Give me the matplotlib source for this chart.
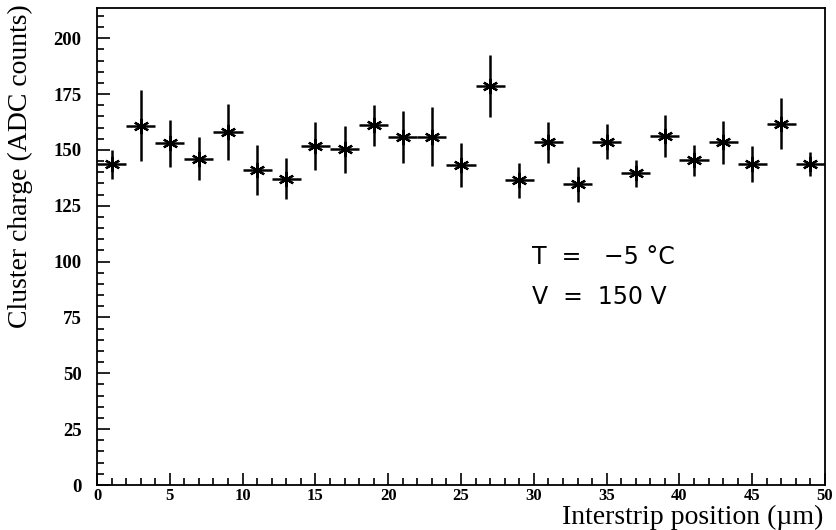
import numpy as np
import matplotlib
matplotlib.use("Agg")
import matplotlib.pyplot as plt
from matplotlib.ticker import MultipleLocator

# interstrip position (um) and cluster charge (ADC counts)
pos = [1, 3, 5, 7, 9, 11, 13, 15, 17, 19, 21, 23, 25,
       27, 29, 31, 33, 35, 37, 39, 41, 43, 45, 47, 49]
charge = [143.5, 160.8, 152.9, 146.0, 158.0, 141.0, 137.1, 151.9, 150.2, 161.0, 155.9, 155.9, 143.2,
          178.6, 136.3, 153.4, 134.6, 153.7, 139.6, 156.2, 145.4, 153.4, 143.8, 161.6, 143.5]
charge_err = [6.6, 16.0, 10.5, 9.7, 12.5, 11.0, 9.2, 10.7, 10.7, 9.2, 11.7, 13.3, 10.0,
              14.0, 7.9, 9.2, 7.8, 7.8, 6.0, 9.4, 7.0, 9.7, 8.0, 11.4, 5.4]
pos_err = [1.0] * len(pos)

fig = plt.figure(figsize=(8.37, 5.30), dpi=100)
ax = fig.add_axes([0.1159, 0.0849, 0.8698, 0.9])

ax.errorbar(pos, charge, yerr=charge_err, xerr=pos_err, fmt='none',
            ecolor='black', elinewidth=1.8, capsize=0)
ax.plot(pos, charge, linestyle='none', marker=(6, 2, 0), markersize=11,
        markeredgewidth=1.6, color='black')

ax.set_xlim(0, 50)
ax.set_ylim(0, 213.5)
ax.xaxis.set_major_locator(MultipleLocator(5))
ax.xaxis.set_minor_locator(MultipleLocator(1))
ax.yaxis.set_major_locator(MultipleLocator(25))
ax.yaxis.set_minor_locator(MultipleLocator(5))
ax.tick_params(which='both', direction='in', top=False, right=False, width=1.2)
ax.tick_params(which='major', length=9)
ax.tick_params(which='minor', length=5)
ax.tick_params(axis='y', pad=11)
ax.tick_params(axis='x', pad=2.5)
for lab in ax.get_xticklabels():
    lab.set_family('Liberation Serif')
    lab.set_fontweight('bold')
    lab.set_fontsize(12)
for lab in ax.get_yticklabels():
    lab.set_family('Liberation Serif')
    lab.set_fontweight('bold')
    lab.set_fontsize(13.5)
for sp in ax.spines.values():
    sp.set_linewidth(1.3)

fig.text(0.024, 0.992, 'Cluster charge (ADC counts)', rotation=90, ha='center', va='top',
         family='Liberation Serif', fontsize=20)
fig.text(0.984, 0.0113, 'Interstrip position (\u00b5m)', ha='right', va='baseline',
         family='Liberation Serif', fontsize=20)

ax.text(0.598, 0.478, 'T  =   \u22125 \u00b0C', transform=ax.transAxes,
        family='DejaVu Sans', fontsize=17, va='center')
ax.text(0.598, 0.394, 'V  =  150 V', transform=ax.transAxes,
        family='DejaVu Sans', fontsize=17, va='center')

fig.savefig('out.png', dpi=100)
